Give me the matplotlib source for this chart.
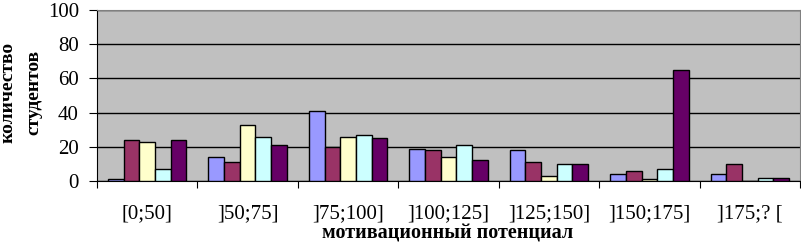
import numpy as np
import matplotlib.pyplot as plt

categories = ['[0;50]', ']50;75]', ']75;100]', ']100;125]', ']125;150]', ']150;175]', ']175;? [']
s1 = [1, 14, 41, 19, 18, 4, 4]
s2 = [24, 11, 20, 18, 11, 6, 10]
s3 = [23, 33, 26, 14, 3, 1, 0]
s4 = [7, 26, 27, 21, 10, 7, 2]
s5 = [24, 21, 25, 12, 10, 65, 2]
series = [s1, s2, s3, s4, s5]
colors = ['#9999FF', '#993366', '#FFFFCC', '#CCFFFF', '#660066']

plt.rcParams['font.family'] = ['Liberation Serif', 'DejaVu Serif']

fig = plt.figure(figsize=(8.01, 2.43), dpi=100)
ax = fig.add_axes([97/801, 1-181/243, 703/801, 171/243])
ax.set_facecolor('#C0C0C0')

x = np.arange(len(categories))
w = 0.156
for i, s in enumerate(series):
    ax.bar(x + (i - 2) * w, s, width=w, color=colors[i], edgecolor='black', linewidth=1, zorder=3)

ax.set_xlim(-0.5, len(categories) - 0.5)
ax.set_ylim(0, 100)
ax.set_yticks(range(0, 101, 20))
ax.yaxis.grid(True, color='black', linewidth=1, zorder=0)
ax.set_xticks(np.arange(-0.5, len(categories), 1))
ax.set_xticklabels([])
ax.set_xticks(x, minor=True)
ax.set_xticklabels(categories, minor=True, fontsize=15)
ax.tick_params(axis='x', which='minor', length=0, pad=17)
ax.tick_params(axis='x', which='major', length=5, direction='out')
ax.tick_params(axis='y', length=6, direction='out', labelsize=15, pad=7)
for sp in ['top', 'right']:
    ax.spines[sp].set_color('#808080')

fig.text(448/801, 1-238/243, 'мотивационный потенциал', fontsize=14.5, fontweight='bold',
         ha='center', va='baseline')
fig.text(21/801, 1-92/243, 'количество\nстудентов', fontsize=14, fontweight='bold',
         rotation=90, ha='center', va='center', multialignment='center', linespacing=1.7)

fig.savefig('out.png', dpi=100)
